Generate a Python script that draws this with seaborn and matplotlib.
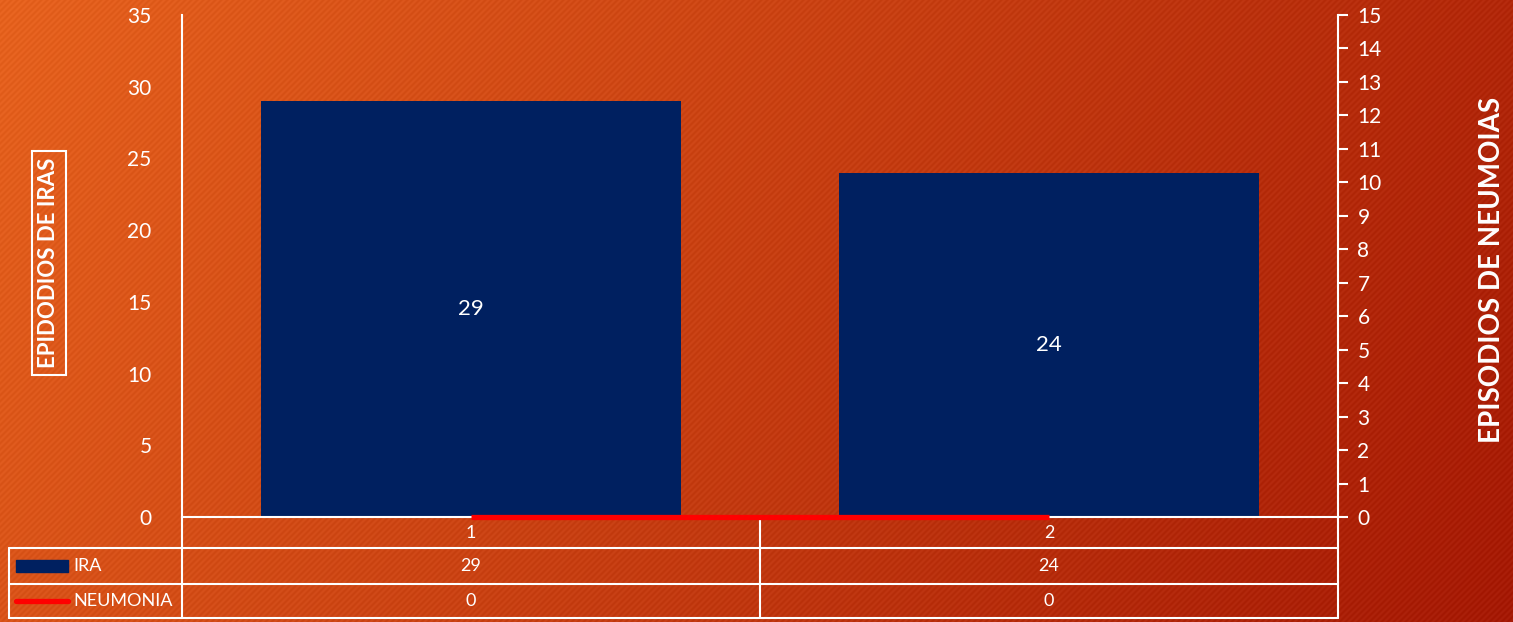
import numpy as np
import pandas as pd
import matplotlib
matplotlib.use('Agg')
import matplotlib.pyplot as plt
import seaborn as sns

# chart data
categories = ['1', '2']
ira = [29, 24]
neumonia = [0, 0]
series_names = ['IRA', 'NEUMONIA']
left_ticks = [0, 5, 10, 15, 20, 25, 30, 35]
right_ticks = list(range(0, 16))

sns.set_theme(style='white')
plt.rcParams['font.family'] = ['Lato', 'DejaVu Sans']

NAVY = '#002060'
RED = '#FF0000'
W = 'white'

df = pd.DataFrame({'cat': categories, 'IRA': ira, 'NEUMONIA': neumonia})

fig = plt.figure(figsize=(15.13, 6.22), dpi=100)

# background: orange -> dark red gradient with fine diagonal stripes
h, w = 622, 1513
yy, xx = np.mgrid[0:h, 0:w]
t = (0.8 * xx / w + 0.2 * yy / h)
c0 = np.array([230, 98, 30]) / 255
c1 = np.array([165, 25, 5]) / 255
bg = c0[None, None, :] * (1 - t[..., None]) + c1[None, None, :] * t[..., None]
stripes = 0.018 * np.sin(2 * np.pi * (xx + yy) / 6.0)
bg = np.clip(bg + stripes[..., None], 0, 1)
bgax = fig.add_axes([0, 0, 1, 1], zorder=-10)
bgax.imshow(bg, aspect='auto', interpolation='nearest')
bgax.axis('off')

ax = fig.add_axes([182 / w, 1 - 517 / h, (1338 - 182) / w, (517 - 15) / h])
ax.patch.set_alpha(0)

sns.barplot(data=df, x='cat', y='IRA', color=NAVY, width=0.725,
            saturation=1, linewidth=0, ax=ax, zorder=2)
ax.set_xlim(-0.5, len(categories) - 0.5)
ax.set_ylim(0, 35)
ax.set_yticks(left_ticks)
ax.tick_params(axis='y', colors=W, labelsize=15, length=0, pad=22)
ax.set_xticks([])
ax.set_xlabel('')
ax.set_ylabel('')
for s in ['top', 'right']:
    ax.spines[s].set_visible(False)
for s in ['left', 'bottom']:
    ax.spines[s].set_color(W)
    ax.spines[s].set_linewidth(1.5)
ax.bar_label(ax.containers[0], labels=[str(v) for v in ira],
             label_type='center', color=W, fontsize=16)

ax2 = ax.twinx()
sns.lineplot(x=list(range(len(categories))), y=neumonia, color=RED,
             linewidth=3.8, ax=ax2, zorder=3, solid_capstyle='butt')
for ln in ax2.lines:
    ln.set_clip_on(False)
ax2.set_ylim(0, 15)
ax2.set_yticks(right_ticks)
ax2.tick_params(axis='y', colors=W, labelsize=15, length=7, width=1.5,
                direction='out', pad=7)
for s in ['top', 'left', 'bottom']:
    ax2.spines[s].set_visible(False)
ax2.spines['right'].set_color(W)
ax2.spines['right'].set_linewidth(1.5)

# axis titles
fig.text(49 / w, 1 - 263 / h, 'EPIDODIOS DE IRAS', rotation=90, color=W,
         fontsize=16, fontweight='bold', ha='center', va='center',
         bbox=dict(boxstyle='square,pad=0.3', fc='none', ec=W, lw=1.5))
fig.text(1492 / w, 1 - 270 / h, 'EPISODIOS DE NEUMOIAS', rotation=90,
         color=W, fontsize=20, fontweight='bold', ha='center', va='center')

# data table under the plot (row edges in axes fraction)
rows_y = [0, -0.0618, -0.1335, -0.2012]
tr = ax.get_xaxis_transform()
lkw = dict(color=W, lw=1.5, clip_on=False)
x_left = -0.5 - (182 - 9) / 578
for y in rows_y[1:]:
    ax.plot([x_left, len(categories) - 0.5], [y, y], transform=tr, **lkw)
for x in [-0.5, 0.5, 1.5]:
    ax.plot([x, x], [rows_y[0], rows_y[-1]], transform=tr, **lkw)
ax.plot([x_left, x_left], [rows_y[1], rows_y[-1]], transform=tr, **lkw)

mid = [(rows_y[i] + rows_y[i + 1]) / 2 for i in range(3)]
for i, c in enumerate(categories):
    ax.text(i, mid[0], c, transform=tr, color=W, fontsize=13,
            ha='center', va='center')
    ax.text(i, mid[1], str(ira[i]), transform=tr, color=W, fontsize=13,
            ha='center', va='center')
    ax.text(i, mid[2], str(neumonia[i]), transform=tr, color=W, fontsize=13,
            ha='center', va='center')

# legend keys inside the table
kx0 = x_left + 7 / 578
kx1 = x_left + 59 / 578
ax.add_patch(plt.Rectangle((kx0, mid[1] - 0.011), kx1 - kx0, 0.022,
                           transform=tr, color=NAVY, clip_on=False))
ax.plot([kx0, kx1], [mid[2], mid[2]], transform=tr, color=RED, lw=3.8,
        solid_capstyle='round', clip_on=False)
for name, y in zip(series_names, mid[1:]):
    ax.text(x_left + 64 / 578, y, name, transform=tr, color=W, fontsize=13,
            ha='left', va='center')

fig.savefig('out.png', dpi=100)
